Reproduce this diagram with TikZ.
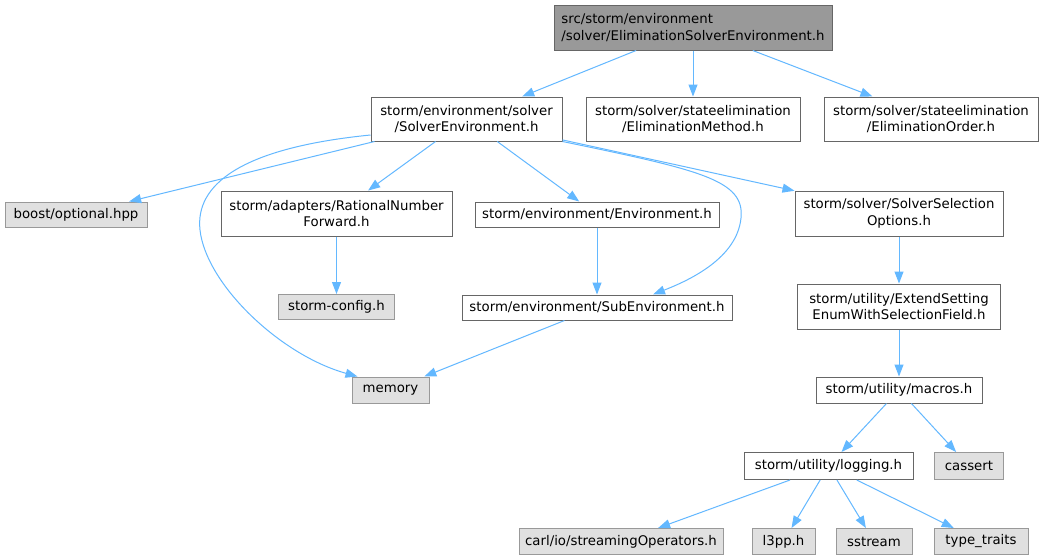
\documentclass[tikz,border=0pt]{standalone}
\usepackage{fontspec}
\setmainfont{DejaVu Sans}
\usetikzlibrary{arrows.meta}
\definecolor{edgeblue}{HTML}{63B8FF}
\definecolor{boxborder}{HTML}{666666}
\definecolor{grayborder}{HTML}{999999}
\definecolor{grayfill}{HTML}{E0E0E0}
\definecolor{rootfill}{HTML}{999999}
\begin{document}
\begin{tikzpicture}[x=1pt,y=-1pt,
  box/.style={draw=boxborder, fill=white, line width=1pt, inner sep=0pt, align=center,
    font=\fontsize{13.3}{16.5}\selectfont, text=black},
  sysbox/.style={box, draw=grayborder, fill=grayfill},
  rootbox/.style={box, fill=rootfill, align=left},
  dep/.style={draw=edgeblue, line width=1pt, -{Triangle[length=12pt,width=9pt]}}
]
\useasboundingbox[fill=white] (0,0) rectangle (1045,560);

\node[rootbox, minimum width=278pt, minimum height=45pt] (top) at (693,27.5)
  {src/storm/environment\\/solver/EliminationSolverEnvironment.h};
\node[box, minimum width=191pt, minimum height=44pt] (SE) at (466.5,119)
  {storm/environment/solver\\/SolverEnvironment.h};
\node[box, minimum width=214pt, minimum height=44pt] (EM) at (693,119)
  {storm/solver/stateelimination\\/EliminationMethod.h};
\node[box, minimum width=214pt, minimum height=44pt] (EO) at (931,119)
  {storm/solver/stateelimination\\/EliminationOrder.h};
\node[sysbox, minimum width=142pt, minimum height=25pt] (boost) at (76,214.5)
  {boost/optional.hpp};
\node[box, minimum width=231pt, minimum height=45pt] (RNF) at (336.5,213.5)
  {storm/adapters/RationalNumber\\Forward.h};
\node[box, minimum width=244pt, minimum height=25pt] (Env) at (597,214.5)
  {storm/environment/Environment.h};
\node[box, minimum width=208pt, minimum height=45pt] (SSO) at (899,213.5)
  {storm/solver/SolverSelection\\Options.h};
\node[sysbox, minimum width=116pt, minimum height=25pt] (cfg) at (336.5,307)
  {storm-config.h};
\node[box, minimum width=270pt, minimum height=25pt] (Sub) at (597,307.5)
  {storm/environment/SubEnvironment.h};
\node[box, minimum width=203pt, minimum height=45pt] (ESE) at (899,306.5)
  {storm/utility/ExtendSetting\\EnumWithSelectionField.h};
\node[sysbox, minimum width=77pt, minimum height=26pt] (mem) at (390.5,390)
  {memory};
\node[box, minimum width=166pt, minimum height=26pt] (mac) at (899,390)
  {storm/utility/macros.h};
\node[box, minimum width=169pt, minimum height=27pt] (log) at (828.5,466)
  {storm/utility/logging.h};
\node[sysbox, minimum width=69pt, minimum height=27pt] (cassert) at (969,466)
  {cassert};
\node[sysbox, minimum width=204pt, minimum height=26pt] (carl) at (621,541.5)
  {carl/io/streamingOperators.h};
\node[sysbox, minimum width=63pt, minimum height=26pt] (l3pp) at (783.5,541.5)
  {l3pp.h};
\node[sysbox, minimum width=76pt, minimum height=26pt] (sstream) at (874,541.5)
  {sstream};
\node[sysbox, minimum width=94pt, minimum height=26pt] (tt) at (981,541.5)
  {type\_traits};

\coordinate (SEl) at ([yshift=-16pt]SE.west);
\coordinate (memIn) at ([xshift=6pt]mem.north west);
\coordinate (SubIn) at ([xshift=56pt]Sub.north);

\draw[dep] (top) -- (SE);
\draw[dep] (top) -- (EM);
\draw[dep] (top) -- (EO);
\draw[dep] (SE) -- (boost);
\draw[dep] (SEl) .. controls (240,148) and (195,185) .. (200,230)
  .. controls (206,284) and (280,355) .. (memIn);
\draw[dep] (SE) -- (RNF);
\draw[dep] (SE) -- (Env);
\draw[dep] (SE.south east) .. controls (700,170) and (745,180) .. (741,218)
  .. controls (737,258) and (690,280) .. (SubIn);
\draw[dep] (SE) -- (SSO);
\draw[dep] (RNF) -- (cfg);
\draw[dep] (Env) -- (Sub);
\draw[dep] (Sub) -- (mem);
\draw[dep] (SSO) -- (ESE);
\draw[dep] (ESE) -- (mac);
\draw[dep] (mac) -- (log);
\draw[dep] (mac) -- (cassert);
\draw[dep] (log) -- (carl);
\draw[dep] (log) -- (l3pp);
\draw[dep] (log) -- (sstream);
\draw[dep] (log) -- (tt);
\end{tikzpicture}
\end{document}
